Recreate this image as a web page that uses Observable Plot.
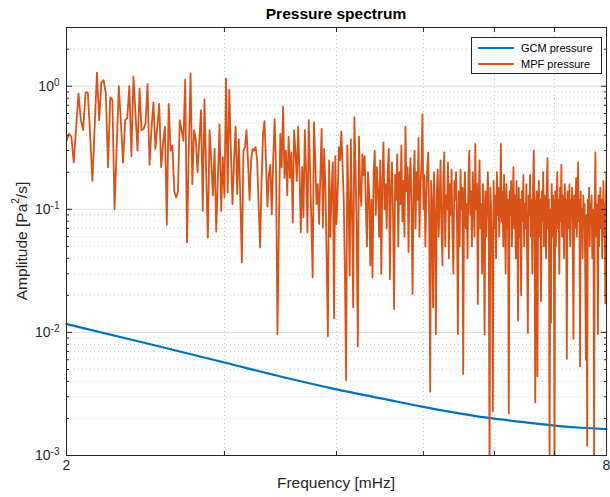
<!DOCTYPE html>
<html><head><meta charset="utf-8">
<script src="https://cdn.jsdelivr.net/npm/d3@7"></script>
<script src="https://cdn.jsdelivr.net/npm/@observablehq/plot@0.6"></script>
<style>
body{margin:0;background:#fff;font-family:"Liberation Sans",Arial,Helvetica,sans-serif;}
#wrap{position:relative;width:610px;height:497px;overflow:hidden;}
#title{position:absolute;left:66px;width:540px;top:5px;text-align:center;font-weight:bold;font-size:15.5px;color:#000;}
#xlabel{position:absolute;left:66px;width:540px;top:474px;text-align:center;font-size:15.5px;color:#262626;}
#ylabel{position:absolute;left:21px;top:241px;transform:translate(-50%,-50%) rotate(-90deg);white-space:nowrap;font-size:15.5px;color:#262626;}
#ylabel sup{font-size:10px;position:relative;top:-1px;}
#legend{position:absolute;left:471px;top:37px;width:131px;height:37px;border:1px solid #262626;background:#fff;font-size:11px;color:#000;box-sizing:border-box;}
.row{position:absolute;left:6px;height:14px;line-height:14px;}
.sw{position:absolute;left:0;top:6px;width:36px;height:2px;}
.lt{position:absolute;left:43px;top:0;white-space:nowrap;}
</style></head><body>
<div id="wrap">
<div id="chart"></div>
<div id="title">Pressure spectrum</div>
<div id="xlabel">Frequency [mHz]</div>
<div id="ylabel">Amplitude [Pa<sup>2</sup>/s]</div>
<div id="legend">
  <div class="row" style="top:3px"><div class="sw" style="background:#0072BD"></div><span class="lt">GCM pressure</span></div>
  <div class="row" style="top:19px"><div class="sw" style="background:#D95319"></div><span class="lt">MPF pressure</span></div>
</div>
</div>
<script>
// ---- data ----
const freqStart = 2, freqEnd = 8;           // mHz, frequency bins evenly spaced
const seriesNames = ["GCM pressure", "MPF pressure"];
const colors = ["#0072BD", "#D95319"];

const gcmFreq = [2, 2.5, 3, 3.5, 4, 4.5, 5, 5.5, 6, 6.5, 7, 7.5, 8];
const gcmAmp  = [0.0117, 0.0079, 0.0057, 0.0043, 0.00345, 0.0029, 0.00248, 0.00219, 0.00199, 0.00186, 0.00175, 0.00168, 0.00164];

// MPF amplitude, 2 -> ~3 mHz
const mpfLow = [
0.36,0.41,0.39,0.24,0.46,0.87,0.53,0.44,0.89,0.89,
0.4,0.17,0.47,1.29,0.53,1.07,1.12,0.87,0.22,0.81,
0.78,0.10,0.32,1.0,0.5,0.24,0.53,0.55,1.0,0.27,
1.2,0.6,0.30,0.96,0.44,0.45,0.50,1.04,
0.23,0.45,0.74,0.31,0.47,0.72,0.22,0.34,0.47,0.075,
0.72,0.30,0.33,0.14,0.125,0.14,0.53,0.44,0.36,1.13,
0.054,0.3,1.27,0.16,0.44,0.37,0.2,0.36,0.64,0.097,
0.78,0.2,0.059,0.44,0.25,0.13,0.31,0.066,0.18,0.49,
0.097,0.265,0.125];
// ~3 -> ~4.4 mHz
const mpfMid = [
1.16,0.137,0.94,0.3,0.11,0.25,0.47,0.133,0.37,0.12,
0.037,0.30,0.32,0.44,0.24,0.119,0.25,0.31,0.3,0.32,
0.25,0.11,0.049,0.17,0.41,0.52,0.25,0.105,0.19,0.23,
0.091,0.25,0.54,0.21,0.0097,0.07,0.41,0.22,0.68,0.18,
0.30,0.13,0.39,0.18,0.29,0.078,0.44,0.3,0.17,0.47,
0.2,0.065,0.22,0.086,0.44,0.2,0.065,0.53,0.21,0.08,
0.028,0.51,0.25,0.11,0.16,0.076,0.19,0.45,0.071,0.31,
0.15,0.04,0.0093,0.25,0.06,0.15,0.24,0.013,0.27,0.076,
0.137,0.32,0.25,0.43,0.23,0.12,0.03,0.0041,0.33,0.12,
0.029,0.37,0.09,0.016,0.56,0.22,0.07,0.0077,0.39,0.15,
0.107,0.28,0.19,0.27,0.11,0.05,0.2,0.137,0.035,0.12];
// ~4.4 -> 8 mHz
const mpfHigh = [
0.028,0.2,0.3,0.09,0.22,0.14,0.06,0.25,0.030,0.18,
0.35,0.1,0.16,0.07,0.21,0.31,0.027,0.15,0.24,0.09,
0.0155,0.19,0.12,0.28,0.05,0.2,0.11,0.33,0.08,0.17,
0.06,0.47,0.14,0.22,0.045,0.18,0.26,0.1,0.0205,0.16,
0.3,0.07,0.2,0.12,0.38,0.06,0.15,0.24,0.59,0.1,
0.19,0.05,0.13,0.22,0.29,0.08,0.0033,0.17,0.11,0.016,
0.2,0.09,0.0097,0.14,0.21,0.06,0.12,0.25,0.07,0.035,
0.18,0.29,0.05,0.13,0.1,0.24,0.04,0.16,0.09,0.21,
0.06,0.03,0.17,0.12,0.2,0.08,0.0097,0.14,0.05,0.21,
0.1,0.15,0.0046,0.13,0.2,0.07,0.11,0.04,0.18,0.3,
0.09,0.14,0.05,0.2,0.12,0.06,0.34,0.1,0.16,0.017,
0.13,0.25,0.07,0.11,0.03,0.16,0.09,0.0096,0.14,0.06,
0.12,0.2,0.08,0.0006,0.15,0.1,0.05,0.0023,0.17,0.07,
0.13,0.04,0.2,0.09,0.15,0.06,0.11,0.34,0.08,0.14,
0.05,0.19,0.1,0.03,0.16,0.07,0.12,0.0022,0.14,0.09,
0.17,0.05,0.11,0.22,0.07,0.13,0.04,0.17,0.09,0.0125,
0.15,0.06,0.12,0.02,0.14,0.08,0.19,0.05,0.11,0.07,
0.16,0.04,0.0099,0.13,0.09,0.19,0.06,0.12,0.03,0.15,
0.3,0.08,0.0027,0.11,0.14,0.0044,0.1,0.17,0.06,0.12,
0.018,0.14,0.08,0.2,0.05,0.13,0.1,0.04,0.15,0.26,
0.07,0.12,0.0007,0.1,0.012,0.16,0.06,0.13,0.09,0.0006,
0.14,0.05,0.11,0.2,0.07,0.12,0.03,0.15,0.08,0.23,
0.06,0.13,0.1,0.04,0.16,0.08,0.12,0.0061,0.14,0.07,
0.1,0.16,0.05,0.12,0.09,0.15,0.04,0.0089,0.13,0.07,
0.11,0.18,0.06,0.1,0.24,0.08,0.12,0.0053,0.14,0.06,
0.1,0.04,0.13,0.08,0.11,0.03,0.006,0.09,0.0012,0.12,
0.07,0.15,0.05,0.11,0.09,0.13,0.04,0.1,0.07,0.0007,
0.12,0.29,0.06,0.11,0.08,0.0097,0.13,0.05,0.1,0.15,
0.07,0.12,0.04,0.09,0.17,0.06,0.11,0.0172,0.13,0.2];

const xTicks = [2, 8];
const xMinor = [3, 4, 5, 6, 7];
const yTicks = [0.001, 0.01, 0.1, 1];
const yTickExp = ["-3", "-2", "-1", "0"];
const yMinor = [0.002,0.003,0.004,0.005,0.006,0.007,0.008,0.009,
                0.02,0.03,0.04,0.05,0.06,0.07,0.08,0.09,
                0.2,0.3,0.4,0.5,0.6,0.7,0.8,0.9,2];

// ---- build tables ----
const mpfAmp = mpfLow.concat(mpfMid, mpfHigh);
const step = (freqEnd - freqStart) / (mpfAmp.length - 1);
const mpf = mpfAmp.map((a, i) => ({f: freqStart + i * step, a}));
const gcm = gcmFreq.map((f, i) => ({f, a: gcmAmp[i]}));
const expOf = d => yTickExp[yTicks.indexOf(d)];
const blank = () => "";
const axisCol = "#262626";

const svg = Plot.plot({
  width: 610, height: 497,
  marginLeft: 66, marginRight: 4, marginTop: 27, marginBottom: 42,
  style: {fontFamily: '"Liberation Sans", Arial, Helvetica, sans-serif', background: "#fff", color: axisCol},
  x: {type: "log", domain: [freqStart, freqEnd]},
  y: {type: "log", domain: [0.001, 3]},
  marks: [
    Plot.ruleY(yMinor, {stroke: "#bdbdbd", strokeDasharray: "1,3", strokeWidth: 0.8}),
    Plot.ruleX(xMinor, {stroke: "#bdbdbd", strokeDasharray: "1,3", strokeWidth: 0.8}),
    Plot.ruleY(yTicks.slice(1), {stroke: "#dedede", strokeWidth: 1}),
    Plot.line(gcm, {x: "f", y: "a", stroke: colors[0], strokeWidth: 2.2, curve: "monotone-x"}),
    Plot.line(mpf, {x: "f", y: "a", stroke: colors[1], strokeWidth: 1.8, clip: true}),
    Plot.frame({stroke: axisCol, strokeWidth: 1}),
    Plot.axisY(yTicks, {anchor: "left", tickSize: 0, tickPadding: 7, fontSize: 14, tickFormat: d => "10^" + expOf(d), label: null}),
    Plot.axisY(yTicks, {anchor: "left", tickSize: -6, tickFormat: blank, label: null, stroke: axisCol}),
    Plot.axisY(yMinor, {anchor: "left", tickSize: -3, tickFormat: blank, label: null, stroke: axisCol}),
    Plot.axisY(yTicks, {anchor: "right", tickSize: -6, tickFormat: blank, label: null, stroke: axisCol}),
    Plot.axisY(yMinor, {anchor: "right", tickSize: -3, tickFormat: blank, label: null, stroke: axisCol}),
    Plot.axisX(xTicks, {anchor: "bottom", tickSize: 0, tickPadding: 5, fontSize: 14, tickFormat: d => String(d), label: null}),
    Plot.axisX(xMinor, {anchor: "bottom", tickSize: -4, tickFormat: blank, label: null, stroke: axisCol}),
    Plot.axisX(xMinor, {anchor: "top", tickSize: -4, tickFormat: blank, label: null, stroke: axisCol})
  ]
});

// superscript exponents on the y tick labels
svg.querySelectorAll('g[aria-label="y-axis tick label"] text').forEach(t => {
  const s = t.textContent;
  if (!s.startsWith("10^")) return;
  const exp = s.slice(3);
  t.textContent = "10";
  const ts = document.createElementNS("http://www.w3.org/2000/svg", "tspan");
  ts.setAttribute("dy", "-0.5em");
  ts.setAttribute("font-size", "10");
  ts.textContent = exp;
  t.appendChild(ts);
});
document.getElementById("chart").appendChild(svg);
</script>
</body></html>
